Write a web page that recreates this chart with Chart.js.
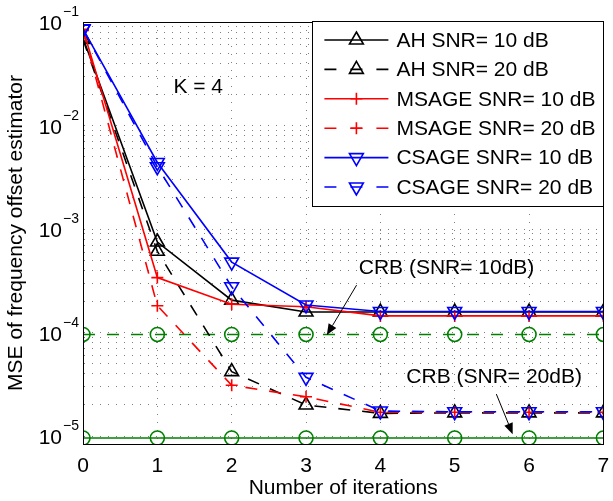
<!DOCTYPE html>
<html><head><meta charset="utf-8">
<script src="https://cdn.jsdelivr.net/npm/chart.js@4.4.1/dist/chart.umd.min.js"></script>
<style>html,body{margin:0;padding:0;background:#fff;}canvas{display:block;}</style>
</head><body>
<canvas id="c" width="613" height="501" style="width:613px;height:501px"></canvas>
<script>
// ---- data ----
const iterations = [0, 1, 2, 3, 4, 5, 6, 7];
const ah10    = [0.070, 7.5e-4, 2.06e-4, 1.58e-4, 1.58e-4, 1.58e-4, 1.58e-4, 1.58e-4];
const ah20    = [0.068, 6.1e-4, 4.2e-5, 2.0e-5, 1.66e-5, 1.68e-5, 1.68e-5, 1.68e-5];
const msage10 = [0.085, 3.4e-4, 1.88e-4, 1.78e-4, 1.45e-4, 1.45e-4, 1.45e-4, 1.45e-4];
const msage20 = [0.083, 1.82e-4, 3.1e-5, 2.4e-5, 1.7e-5, 1.7e-5, 1.7e-5, 1.7e-5];
const csage10 = [0.086, 4.4e-3, 4.8e-4, 1.85e-4, 1.6e-4, 1.6e-4, 1.6e-4, 1.6e-4];
const csage20 = [0.085, 4.0e-3, 2.77e-4, 3.7e-5, 1.75e-5, 1.72e-5, 1.72e-5, 1.72e-5];
const crb10   = [9.6e-5, 9.6e-5, 9.6e-5, 9.6e-5, 9.6e-5, 9.6e-5, 9.6e-5, 9.6e-5];
const crb20   = [9.6e-6, 9.6e-6, 9.6e-6, 9.6e-6, 9.6e-6, 9.6e-6, 9.6e-6, 9.6e-6];
const legendLabels = ['AH SNR= 10 dB', 'AH SNR= 20 dB', 'MSAGE SNR= 10 dB', 'MSAGE SNR= 20 dB', 'CSAGE SNR= 10 dB', 'CSAGE SNR= 20 dB'];
const yTickExponents = [-5, -4, -3, -2, -1];
const xTitle = 'Number of iterations';
const yTitle = 'MSE of frequency offset estimator';
const annotK = 'K = 4';
const annotCrb10 = 'CRB (SNR= 10dB)';
const annotCrb20 = 'CRB (SNR= 20dB)';

// ---- styling ----
const FONT = '"Liberation Sans", Arial, Helvetica, sans-serif';
const FS = 21;
const GREEN = '#008000';
const GRID = 'rgba(0,0,0,0.5)';
const DASH = [12, 12];

function minorTicks() {
  const t = [];
  for (let e = -5; e <= -2; e++) for (let m = 1; m <= 9; m++) t.push({ value: m * Math.pow(10, e) });
  t.push({ value: 0.1 });
  return t;
}

function ds(label, values, color, dash, style, rot, radius, order) {
  return {
    label, order,
    data: iterations.map((x, i) => ({ x, y: values[i] })),
    borderColor: color, backgroundColor: 'rgba(0,0,0,0)', borderWidth: 1.6,
    borderDash: dash, pointStyle: style, pointRotation: rot, pointRadius: radius,
    pointBorderColor: color, pointBackgroundColor: 'rgba(0,0,0,0)', pointBorderWidth: 1.6,
    pointHoverRadius: radius, tension: 0, fill: false
  };
}

const datasets = [
  ds(legendLabels[0], ah10, '#000000', [], 'triangle', 0, 8, 5),
  ds(legendLabels[1], ah20, '#000000', DASH, 'triangle', 0, 8, 6),
  ds(legendLabels[2], msage10, '#ff0000', [], 'cross', 0, 6, 3),
  ds(legendLabels[3], msage20, '#ff0000', DASH, 'cross', 0, 6, 4),
  ds(legendLabels[4], csage10, '#0000ff', [], 'triangle', 180, 8, 1),
  ds(legendLabels[5], csage20, '#0000ff', DASH, 'triangle', 180, 8, 2),
  ds('CRB 10', crb10, GREEN, DASH, 'circle', 0, 7, 7),
  ds('CRB 20', crb20, GREEN, [], 'circle', 0, 7, 8)
];

function marker(ctx, style, x, y, r, rot) {
  ctx.beginPath();
  if (style === 'circle') {
    ctx.arc(x, y, r, 0, Math.PI * 2);
  } else if (style === 'cross') {
    ctx.moveTo(x - r, y); ctx.lineTo(x + r, y);
    ctx.moveTo(x, y - r); ctx.lineTo(x, y + r);
  } else {
    let a = rot * Math.PI / 180;
    ctx.moveTo(x + Math.sin(a) * r, y - Math.cos(a) * r);
    for (let k = 0; k < 2; k++) { a += 2 * Math.PI / 3; ctx.lineTo(x + Math.sin(a) * r, y - Math.cos(a) * r); }
    ctx.closePath();
  }
  ctx.stroke();
}

function arrow(ctx, x1, y1, x2, y2) {
  ctx.save();
  ctx.strokeStyle = '#000'; ctx.fillStyle = '#000'; ctx.lineWidth = 1;
  const ang = Math.atan2(y2 - y1, x2 - x1);
  const L = 11, W = 4.5;
  const bx = x2 - Math.cos(ang) * L, by = y2 - Math.sin(ang) * L;
  ctx.beginPath(); ctx.moveTo(x1, y1); ctx.lineTo(bx, by); ctx.stroke();
  ctx.beginPath();
  ctx.moveTo(x2, y2);
  ctx.lineTo(bx + Math.sin(ang) * W, by - Math.cos(ang) * W);
  ctx.lineTo(bx - Math.sin(ang) * W, by + Math.cos(ang) * W);
  ctx.closePath(); ctx.fill();
  ctx.restore();
}

const deco = {
  id: 'deco',
  afterDatasetsDraw(chart) {
    const ctx = chart.ctx, a = chart.chartArea;
    const xs = chart.scales.x, ys = chart.scales.y;
    const X = v => xs.getPixelForValue(v);
    const Y = lg => ys.getPixelForValue(Math.pow(10, lg));
    ctx.save();
    // axes box
    ctx.strokeStyle = '#000'; ctx.lineWidth = 1; ctx.setLineDash([]);
    ctx.strokeRect(Math.round(a.left) + 0.5, Math.round(a.top) + 0.5, Math.round(a.right - a.left), Math.round(a.bottom - a.top));
    // y tick labels with superscripts
    ctx.fillStyle = '#000';
    yTickExponents.forEach(e => {
      const y = ys.getPixelForValue(Math.pow(10, e));
      ctx.font = FS + 'px ' + FONT; ctx.textAlign = 'right'; ctx.textBaseline = 'alphabetic';
      ctx.fillText('10', a.left - 21, y + 8);
      ctx.font = '14px ' + FONT; ctx.textAlign = 'left';
      ctx.fillText('\u2212' + (-e), a.left - 20, y - 6);
    });
    // annotations
    ctx.font = FS + 'px ' + FONT; ctx.textAlign = 'center'; ctx.textBaseline = 'middle';
    ctx.fillText(annotK, X(1.55), Y(-1.63));
    ctx.fillText(annotCrb10, X(4.89), Y(-3.377));
    ctx.fillText(annotCrb20, X(5.53), Y(-4.43));
    arrow(ctx, X(3.68), Y(-3.541), X(3.28), Y(-4.024));
    arrow(ctx, X(5.56), Y(-4.594), X(5.78), Y(-4.981));
    // legend
    const lw = 291, lh = 185;
    const lx = a.right - lw, ly = a.top - 1;
    ctx.fillStyle = '#fff';
    ctx.fillRect(lx, ly, lw, lh);
    ctx.strokeStyle = '#000'; ctx.lineWidth = 1;
    ctx.strokeRect(Math.round(lx) + 0.5, Math.round(ly) + 0.5, lw, lh);
    for (let i = 0; i < 6; i++) {
      const d = datasets[i];
      const ry = ly + 19 + i * 29.4;
      ctx.strokeStyle = d.borderColor; ctx.lineWidth = 1.6;
      ctx.setLineDash(d.borderDash.length ? [12, 14] : []);
      ctx.beginPath(); ctx.moveTo(lx + 12, ry); ctx.lineTo(lx + 76, ry); ctx.stroke();
      ctx.setLineDash([]);
      marker(ctx, d.pointStyle, lx + 44, ry, d.pointRadius, d.pointRotation);
      ctx.fillStyle = '#000'; ctx.font = FS + 'px ' + FONT; ctx.textAlign = 'left'; ctx.textBaseline = 'middle';
      ctx.fillText(legendLabels[i], lx + 84, ry + 1);
    }
    ctx.restore();
  }
};

new Chart(document.getElementById('c'), {
  type: 'line',
  data: { datasets },
  options: {
    responsive: false, animation: false,
    layout: { padding: { top: 22, right: 9, left: 0, bottom: 0 } },
    plugins: { legend: { display: false }, tooltip: { enabled: false } },
    scales: {
      x: {
        type: 'linear', min: 0, max: 7,
        ticks: { stepSize: 1, padding: 10, color: '#000', font: { family: FONT, size: FS } },
        grid: { color: GRID, lineWidth: 1, drawTicks: false },
        border: { color: '#000', width: 1, dash: [1, 7] },
        title: { display: true, text: xTitle, color: '#000', font: { family: FONT, size: FS }, padding: { top: 0, bottom: 0 } },
        afterFit(s) { s.height = 57; s.paddingLeft = 0; s.paddingRight = 0; }
      },
      y: {
        type: 'logarithmic', min: 8.4e-6, max: 0.1,
        afterBuildTicks(s) { s.ticks = minorTicks(); },
        ticks: { display: false },
        grid: { color: GRID, lineWidth: 1, drawTicks: false },
        border: { color: '#000', width: 1, dash: [1, 7] },
        title: { display: true, text: yTitle, color: '#000', font: { family: FONT, size: FS }, padding: { top: 4, bottom: 0 } },
        afterFit(s) { s.width = 83; s.paddingTop = 0; s.paddingBottom = 0; }
      }
    }
  },
  plugins: [deco]
});
</script>
</body></html>
